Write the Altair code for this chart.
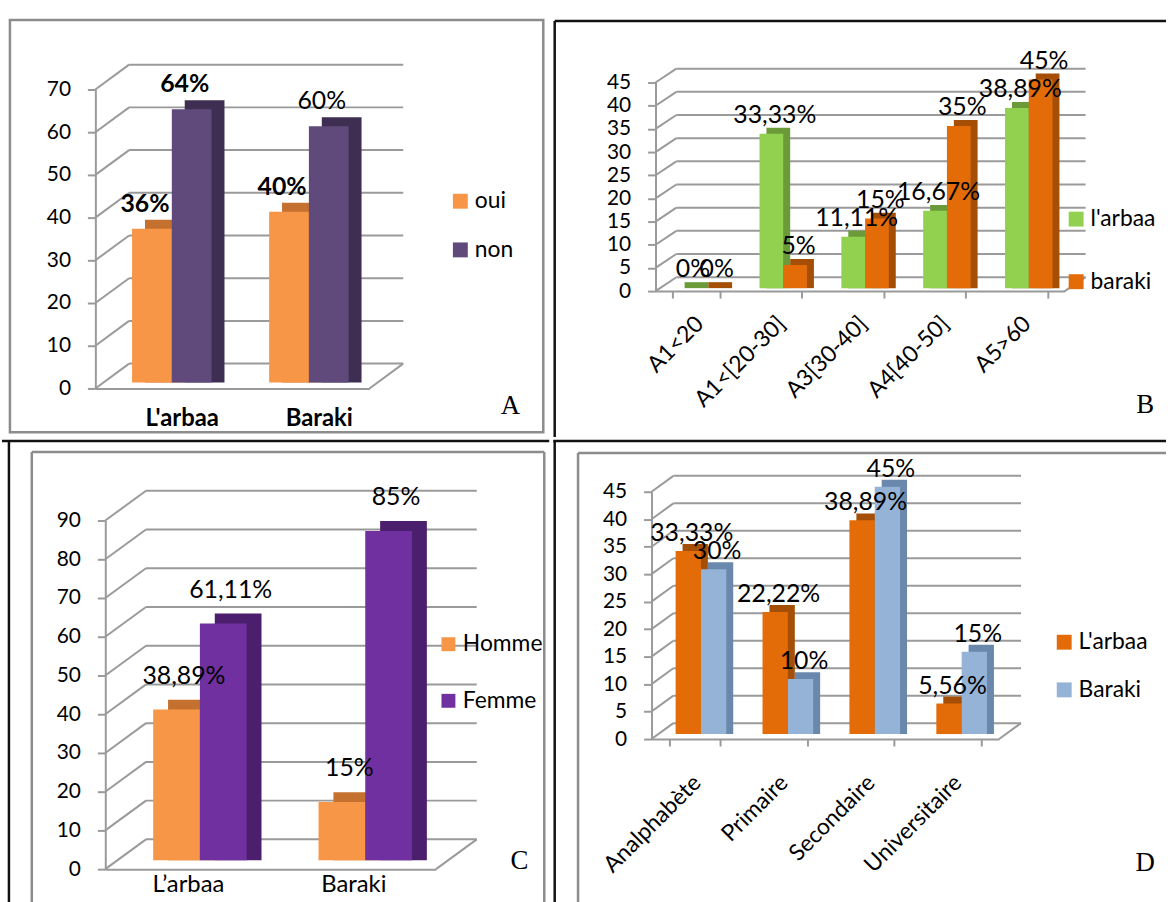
import json
import altair as alt
import pandas as pd

FONT = "Lato"
SERIF = "Liberation Serif"
GRID = "#9a9a9a"
BLACK = "#111111"
FRAME = "#8c8c8c"

# ---- A : oui / non by site
A_CATS = ["L'arbaa", "Baraki"]
A_SERIES = ["oui", "non"]
A_OUI = [36, 40]
A_NON = [64, 60]
A_TICKS = [0, 10, 20, 30, 40, 50, 60, 70]
A_COLORS = ["#F79646", "#604A7B"]
A_SIDES = ["#C4712F", "#3E2F52"]
A_BOLD_LABELS = ["36%", "64%", "40%"]

# ---- B : age groups
B_CATS = ["A1<20", "A1<[20-30]", "A3[30-40]", "A4[40-50]", "A5>60"]
B_SERIES = ["l'arbaa", "baraki"]
B_LARBAA = [0, 33.33, 11.11, 16.67, 38.89]
B_BARAKI = [0, 5, 15, 35, 45]
B_TICKS = [0, 5, 10, 15, 20, 25, 30, 35, 40, 45]
B_COLORS = ["#92D050", "#E36C09"]
B_SIDES = ["#6A9B38", "#A44E06"]

# ---- C : sex
C_CATS = ["L\u2019arbaa", "Baraki"]
C_SERIES = ["Homme", "Femme"]
C_HOMME = [38.89, 15]
C_FEMME = [61.11, 85]
C_TICKS = [0, 10, 20, 30, 40, 50, 60, 70, 80, 90]
C_COLORS = ["#F79646", "#7030A0"]
C_SIDES = ["#C4712F", "#4B1E6E"]

# ---- D : education level
D_CATS = ["Analphabète", "Primaire", "Secondaire", "Universitaire"]
D_SERIES = ["L'arbaa", "Baraki"]
D_LARBAA = [33.33, 22.22, 38.89, 5.56]
D_BARAKI = [30, 10, 45, 15]
D_TICKS = [0, 5, 10, 15, 20, 25, 30, 35, 40, 45]
D_COLORS = ["#E36C09", "#95B3D7"]
D_SIDES = ["#A44E06", "#6A87AC"]


def pct(v):
    txt = f"{v:g}" if float(v).is_integer() else f"{v:.2f}"
    return txt.replace(".", ",") + "%"


def table(cats, series, columns):
    rows = []
    for s, vals in zip(series, columns):
        for c, v in zip(cats, vals):
            rows.append({"cat": c, "series": s, "value": v, "label": pct(v)})
    return pd.DataFrame(rows)


def panel(df, cats, series, colors, sides, ticks, g, bold=None):
    W, H, ox, oy = g["W"], g["H"], g["ox"], g["oy"]
    one = alt.Chart(pd.DataFrame({"k": [0]}))
    xs = alt.Scale(domain=cats, paddingInner=g["pi"], paddingOuter=g["pi"] / 2,
                   range=[ox, ox + W])
    ys = alt.Scale(domain=[0, ticks[-1]], nice=False, zero=True, range=[oy + H, oy])
    bw = W / len(cats) * (1 - g["pi"])  # width of one category group

    rotated = g["angle"] != 0
    xaxis = alt.Axis(
        title=None, domain=True, domainColor=GRID, domainWidth=2,
        ticks=g["xticks"], tickBand="extent", tickColor=GRID, tickWidth=2, tickSize=7,
        labelAngle=g["angle"], labelAlign="right" if rotated else "center",
        labelBaseline="middle" if rotated else "top",
        labelFontSize=g["xfs"], labelFontWeight=g["xweight"], labelFont=FONT,
        labelColor="black", labelPadding=g["xpad"], labelOffset=g["xoff"],
        labelOverlap=False, labelLimit=300,
    )
    yaxis_kw = dict(
        title=None, values=ticks, grid=False, domain=True, domainColor=GRID,
        domainWidth=2, ticks=True, tickColor=GRID, tickWidth=2, tickSize=8,
        labelPadding=17, labelFontSize=21, labelFont=FONT, labelColor="black",
        labelOverlap=False,
    )
    if ox:
        yaxis_kw["offset"] = -ox
    yaxis = alt.Axis(**yaxis_kw)

    X = alt.X("cat:N", scale=xs, sort=cats, axis=xaxis)
    Y = alt.Y("value:Q", scale=ys, axis=yaxis)

    def xoff(shift):
        return alt.XOffset("series:N", sort=series,
                           scale=alt.Scale(domain=series, range=[shift, shift + bw]))

    layers = []
    # cell extent (the panel's footprint in the grid)
    layers.append(one.mark_rect(opacity=0).encode(
        x=alt.value(-g["L"]), x2=alt.value(g["R"]),
        y=alt.value(-g["T"]), y2=alt.value(g["B"])))
    # frames
    for (x1, y1, x2, y2, col, sw) in g["lines"]:
        layers.append(one.mark_rule(color=col, strokeWidth=sw).encode(
            x=alt.value(x1), x2=alt.value(x2), y=alt.value(y1), y2=alt.value(y2)))
    for (x1, y1, x2, y2, col, sw) in g["rects"]:
        layers.append(one.mark_rect(fillOpacity=0, stroke=col, strokeWidth=sw).encode(
            x=alt.value(x1), x2=alt.value(x2), y=alt.value(y1), y2=alt.value(y2)))

    # 3D walls: back gridlines, side slants, floor edge
    tk = alt.Chart(pd.DataFrame({"t": ticks}))
    YT = alt.Y("t:Q", scale=ys, axis=yaxis)
    dxw, dyw = g["dxw"], g["dyw"]
    layers.append(tk.mark_rule(color=GRID, strokeWidth=2, yOffset=dyw).encode(
        y=YT, x=alt.value(ox + dxw), x2=alt.value(ox + W + dxw)))
    layers.append(tk.mark_rule(color=GRID, strokeWidth=2, y2Offset=dyw).encode(
        y=YT, y2=alt.Y2("t:Q"), x=alt.value(ox), x2=alt.value(ox + dxw)))
    layers.append(one.mark_rule(color=GRID, strokeWidth=2).encode(
        x=alt.value(ox + W), x2=alt.value(ox + W + dxw),
        y=alt.value(oy + H), y2=alt.value(oy + H + dyw)))

    base = alt.Chart(df)
    sx, sy, dxb, dyb = g["sx"], g["sy"], g["dxb"], g["dyb"]
    # side/top faces of the bars
    layers.append(base.mark_bar(yOffset=sy + dyb, y2Offset=sy).encode(
        x=X, xOffset=xoff(sx + dxb), y=Y, y2=alt.datum(0),
        fill=alt.Fill("series:N", scale=alt.Scale(domain=series, range=sides), legend=None)))
    legend = alt.Legend(
        orient="none", legendX=g["lx"], legendY=g["ly"], title=None,
        symbolType="square", symbolSize=g["sym"] ** 2, symbolStrokeWidth=0,
        labelFontSize=23, labelFont=FONT, labelColor="black", labelOffset=3,
        rowPadding=g["rowpad"], padding=0,
    )
    # front faces
    layers.append(base.mark_bar(yOffset=sy, y2Offset=sy).encode(
        x=X, xOffset=xoff(sx), y=Y, y2=alt.datum(0),
        color=alt.Color("series:N", scale=alt.Scale(domain=series, range=colors), legend=legend)))

    # value labels
    fs = 25
    tprops = dict(yOffset=sy, dy=-g["gap"] + 0.36 * fs,
                  fontSize=fs, font=FONT, color="black", baseline="alphabetic")
    enc = dict(x=X, xOffset=xoff(g.get("tx", sx + dxb / 2)), y=Y, text="label:N")
    if bold:
        lst = json.dumps(bold)
        layers.append(base.mark_text(**tprops).encode(**enc)
                      .transform_filter(f"indexof({lst}, datum.label) < 0"))
        layers.append(base.mark_text(fontWeight="bold", **tprops).encode(**enc)
                      .transform_filter(f"indexof({lst}, datum.label) >= 0"))
    else:
        layers.append(base.mark_text(**tprops).encode(**enc))

    # panel letter
    layers.append(one.mark_text(text=g["letter"], font=SERIF, fontSize=27, color="black",
                                baseline="middle", align="center").encode(
        x=alt.value(g["letx"]), y=alt.value(g["lety"])))

    return alt.layer(*layers).resolve_scale(
        color="independent", fill="independent", xOffset="independent"
    ).properties(width=ox + W, height=oy + H)


# Column origins sit on the left value axis, row origins on the top tick;
# every panel spans its full grid cell (L, R, T, B measured from that origin).
GA = dict(W=276, H=301, ox=0, oy=7, L=94, R=457, T=80, B=357,
          pi=0.42, dxw=34, dyw=-25, sx=8, sy=-6, dxb=13, dyb=-9, gap=26, tx=1,
          angle=0, xticks=False, xfs=24, xweight="bold", xpad=18, xoff=18,
          lx=356, ly=108, sym=15, rowpad=25, letter="A", letx=418, lety=326,
          lines=[], rects=[(-86, -63, 451, 352, FRAME, 2.5)])
GB = dict(W=412, H=210, ox=4, oy=0, L=99, R=518, T=80, B=357,
          pi=0.42, dxw=21, dyw=-14, sx=5, sy=-3, dxb=7, dyb=-6, gap=20,
          angle=315, xticks=True, xfs=23, xweight="normal", xpad=22, xoff=3,
          lx=416, ly=126, sym=15, rowpad=39, letter="B", letx=497, lety=325,
          lines=[(-97.5, -62, -97.5, 357, BLACK, 2.5), (-97.5, -62, 518, -62, BLACK, 2.5)],
          rects=[])
GC = dict(W=333, H=351, ox=10, oy=29, L=94, R=457, T=52, B=413,
          pi=0.435, dxw=41, dyw=-30, sx=12, sy=-9, dxb=15, dyb=-10, gap=35,
          angle=0, xticks=False, xfs=24, xweight="normal", xpad=3, xoff=0,
          lx=344, ly=142, sym=14, rowpad=33, letter="C", letx=427, lety=372,
          lines=[(-94, -51, 457, -51, BLACK, 2.5), (-87, -51, -87, 413, BLACK, 2.5),
                 (-64, -40, -64, 413, FRAME, 2.5), (-64, -40, 452, -40, FRAME, 2.5),
                 (452, -40, 452, 413, FRAME, 2.5)],
          rects=[])
GD = dict(W=350, H=249, ox=0, oy=0, L=99, R=518, T=52, B=413,
          pi=0.417, dxw=22, dyw=-16, sx=6, sy=-5, dxb=7, dyb=-7, gap=19,
          angle=315, xticks=True, xfs=23, xweight="normal", xpad=33, xoff=2,
          lx=404, ly=140, sym=15, rowpad=24, letter="D", letx=497, lety=374,
          lines=[(-99, -51, 518, -51, BLACK, 2.5), (-97.5, -51, -97.5, 413, BLACK, 2.5),
                 (-74, -39, -74, 413, FRAME, 2.5), (-74, -39, 518, -39, FRAME, 2.5)],
          rects=[])

pA = panel(table(A_CATS, A_SERIES, [A_OUI, A_NON]), A_CATS, A_SERIES, A_COLORS, A_SIDES,
           A_TICKS, GA, bold=A_BOLD_LABELS)
pB = panel(table(B_CATS, B_SERIES, [B_LARBAA, B_BARAKI]), B_CATS, B_SERIES, B_COLORS, B_SIDES,
           B_TICKS, GB)
pC = panel(table(C_CATS, C_SERIES, [C_HOMME, C_FEMME]), C_CATS, C_SERIES, C_COLORS, C_SIDES,
           C_TICKS, GC)
pD = panel(table(D_CATS, D_SERIES, [D_LARBAA, D_BARAKI]), D_CATS, D_SERIES, D_COLORS, D_SIDES,
           D_TICKS, GD)

chart = (
    alt.concat(pA, pB, pC, pD, columns=2, spacing=0, align="each", bounds="full")
    .resolve_scale(color="independent", fill="independent", x="independent", y="independent",
                   xOffset="independent")
    .properties(padding=0, background="white")
    .configure(font=FONT)
    .configure_view(strokeWidth=0)
)

chart.save("out.html", embed_options={"renderer": "svg", "actions": False})
